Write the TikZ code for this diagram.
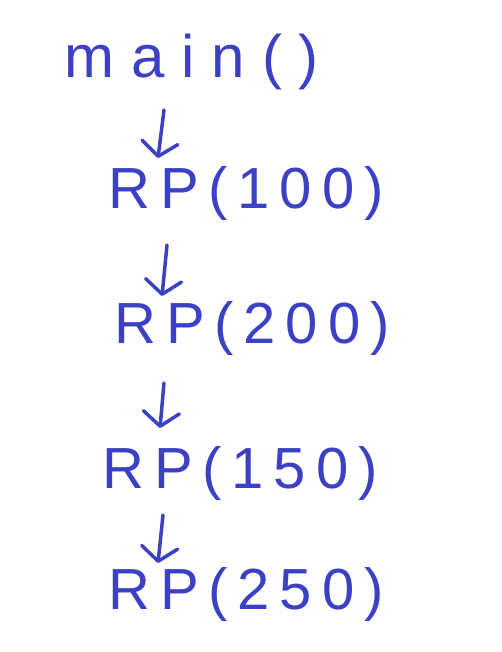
\documentclass[tikz,border=0pt]{standalone}
\usepackage{fontspec}
\setmainfont{Liberation Sans}
\newfontfamily\rpfont{Liberation Sans}[LetterSpace=17]
\newfontfamily\mainfont{Liberation Sans}[LetterSpace=28]
\usetikzlibrary{arrows.meta}
\definecolor{ink}{HTML}{3C40C4}
\tikzset{
  lbl/.style={text=ink, inner sep=0pt, anchor=center, font=\fontsize{58}{60}\rpfont},
  mlbl/.style={text=ink, inner sep=0pt, anchor=center, font=\fontsize{60}{62}\mainfont},
  arr/.style={draw=ink, line width=3.5pt, line cap=round,
    -{Straight Barb[length=14pt,width=36pt,line width=3.5pt,round]}}
}
\begin{document}
\begin{tikzpicture}[x=1pt,y=-1pt]
\useasboundingbox (0,0) rectangle (502,652);
\node[mlbl] (m) at (192,62) {main()};
\node[lbl] (r1) at (246,193) {RP(100)};
\node[lbl] (r2) at (252,328) {RP(200)};
\node[lbl] (r3) at (240,473) {RP(150)};
\node[lbl] (r4) at (246,594) {RP(250)};
\coordinate (a1s) at (164,110); \coordinate (a1e) at (158,158);
\coordinate (a2s) at (167,245); \coordinate (a2e) at (162,296);
\coordinate (a3s) at (164,383); \coordinate (a3e) at (160,428);
\coordinate (a4s) at (163,515); \coordinate (a4e) at (158,563);
\draw[arr] (a1s) -- (a1e);
\draw[arr] (a2s) -- (a2e);
\draw[arr] (a3s) -- (a3e);
\draw[arr] (a4s) -- (a4e);
\end{tikzpicture}
\end{document}
